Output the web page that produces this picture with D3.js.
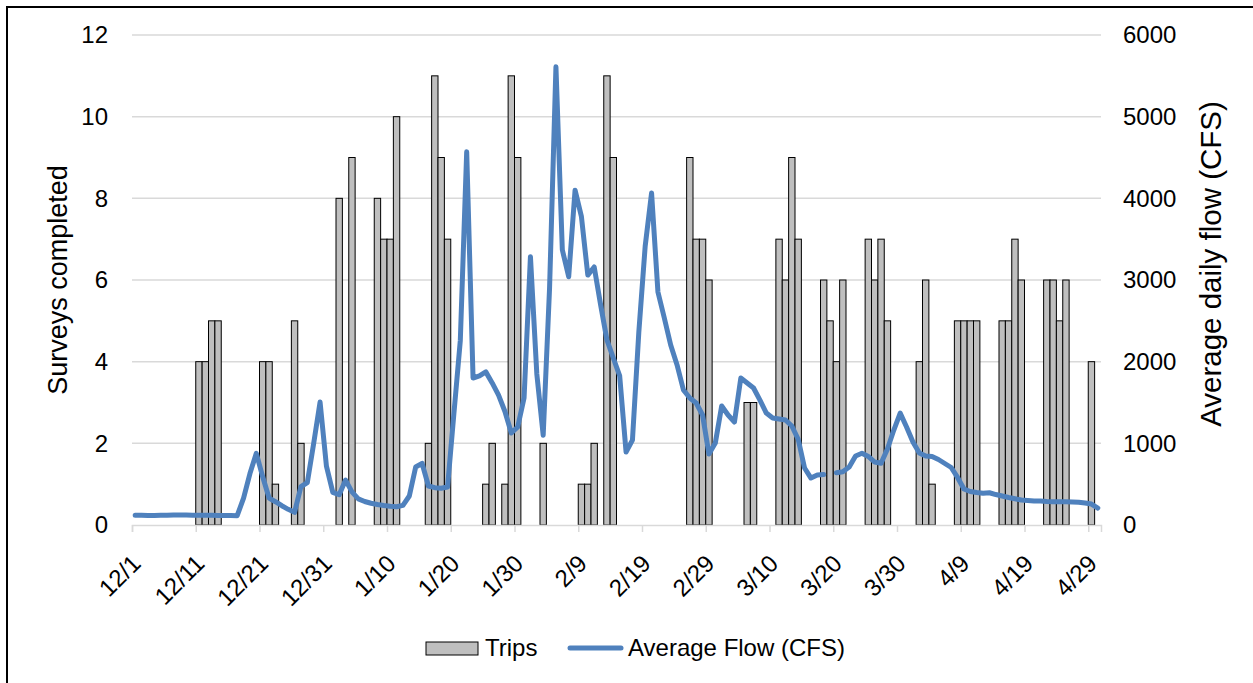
<!DOCTYPE html>
<html>
<head>
<meta charset="utf-8">
<script src="https://cdn.jsdelivr.net/npm/d3@7"></script>
<style>
  html, body { margin: 0; padding: 0; background: #fff; }
  svg text { font-family: "Liberation Sans", Arial, sans-serif; fill: #000; }
</style>
</head>
<body>
<svg id="chart" width="1253" height="683"></svg>
<script>
// ---- data ----
const firstDay = "2019-12-01";   // first day of the record
const lastDayExcl = "2020-05-01"; // day after the last day shown

const tickDates  = ["2019-12-01","2019-12-11","2019-12-21","2019-12-31","2020-01-10","2020-01-20",
                    "2020-01-30","2020-02-09","2020-02-19","2020-02-29","2020-03-10","2020-03-20",
                    "2020-03-30","2020-04-09","2020-04-19","2020-04-29"];
const tickLabels = ["12/1","12/11","12/21","12/31","1/10","1/20","1/30","2/9","2/19","2/29",
                    "3/10","3/20","3/30","4/9","4/19","4/29"];

const leftTicks  = [0, 2, 4, 6, 8, 10, 12];
const rightTicks = [0, 1000, 2000, 3000, 4000, 5000, 6000];

// survey trips per day
const tripDates = [
  "2019-12-11","2019-12-12","2019-12-13","2019-12-14",
  "2019-12-21","2019-12-22","2019-12-23",
  "2019-12-26","2019-12-27",
  "2020-01-02","2020-01-04",
  "2020-01-08","2020-01-09","2020-01-10","2020-01-11",
  "2020-01-16","2020-01-17","2020-01-18","2020-01-19",
  "2020-01-25","2020-01-26","2020-01-28","2020-01-29","2020-01-30",
  "2020-02-03",
  "2020-02-09","2020-02-10","2020-02-11","2020-02-13","2020-02-14",
  "2020-02-26","2020-02-27","2020-02-28","2020-02-29",
  "2020-03-06","2020-03-07",
  "2020-03-11","2020-03-12","2020-03-13","2020-03-14",
  "2020-03-18","2020-03-19","2020-03-20","2020-03-21",
  "2020-03-25","2020-03-26","2020-03-27","2020-03-28",
  "2020-04-02","2020-04-03","2020-04-04",
  "2020-04-08","2020-04-09","2020-04-10","2020-04-11",
  "2020-04-15","2020-04-16","2020-04-17","2020-04-18",
  "2020-04-22","2020-04-23","2020-04-24","2020-04-25",
  "2020-04-29"
];
const tripCounts = [
  4, 4, 5, 5,
  4, 4, 1,
  5, 2,
  8, 9,
  8, 7, 7, 10,
  2, 11, 9, 7,
  1, 2, 1, 11, 9,
  2,
  1, 1, 2, 11, 9,
  9, 7, 7, 6,
  3, 3,
  7, 6, 9, 7,
  6, 5, 4, 6,
  7, 6, 7, 5,
  4, 6, 1,
  5, 5, 5, 5,
  5, 5, 7, 6,
  6, 6, 5, 6,
  4
];

// average daily flow (CFS), one value per day starting at firstDay; null = no reading
const flowCfs = [
  118, 118, 117, 117, 118, 120, 122, 122, 121, 120,   // 12/1 - 12/10
  120, 119, 118, 117, 116, 115, 114, 330, 630, 878,   // 12/11 - 12/20
  590, 330, 285, 236, 192, 155, 470, 520, 1000, 1505, // 12/21 - 12/30
  720,                                                // 12/31
  400, 370, 550, 405, 320, 288, 266, 251, 239, 229,   // 1/1 - 1/10
  224, 240, 355, 710, 755, 477, 457, 450, 465, 1370,  // 1/11 - 1/20
  2260, 4570, 1800, 1825, 1875, 1740, 1590, 1390, 1126, 1200, // 1/21 - 1/30
  1555,                                               // 1/31
  3285, 1850, 1100, 2900, 5610, 3370, 3040, 4100, 3775, 3060, // 2/1 - 2/10
  3160, 2700, 2265, 2045, 1825, 894, 1040, 2360, 3415, 4065,  // 2/11 - 2/20
  2853, 2535, 2204, 1960, 1653, 1555, 1494, 1347, 869,        // 2/21 - 2/29
  1004, 1457, 1347, 1261, 1800, 1739, 1678, 1530, 1371, 1310, // 3/1 - 3/10
  1298, 1286, 1212, 1050, 698, 575, 612, 618, null, 640,      // 3/11 - 3/20
  653, 710, 845, 878, 839, 771, 755, 930, 1163, 1370,         // 3/21 - 3/30
  1200,                                                       // 3/31
  1016, 882, 845, 839, 802, 753, 704, 582, 441, 410,          // 4/1 - 4/10
  398, 388, 395, 373, 355, 337, 321, 306, 300, 294,           // 4/11 - 4/20
  294, 288, 285, 285, 284, 282, 279, 269, 257, 208            // 4/21 - 4/30
];

// ---- layout ----
const W = 1253, H = 683;
const plot = { left: 132, right: 1101, top: 35, bottom: 525 };
const svg = d3.select("#chart");

const parse = d3.utcParse("%Y-%m-%d");
const day0 = parse(firstDay);
const dayEnd = parse(lastDayExcl);

const x = d3.scaleUtc().domain([day0, dayEnd]).range([plot.left, plot.right]);
const yL = d3.scaleLinear().domain([0, 12]).range([plot.bottom, plot.top]);
const yR = d3.scaleLinear().domain([0, 6000]).range([plot.bottom, plot.top]);

// outer chart frame
svg.append("rect")
  .attr("x", 7).attr("y", 7)
  .attr("width", W + 20).attr("height", H + 20)
  .attr("fill", "none").attr("stroke", "#000").attr("stroke-width", 2);

// horizontal gridlines
svg.append("g").selectAll("line")
  .data(leftTicks.filter(d => d > 0))
  .join("line")
  .attr("x1", plot.left).attr("x2", plot.right)
  .attr("y1", d => yL(d)).attr("y2", d => yL(d))
  .attr("stroke", "#d9d9d9").attr("stroke-width", 1.5);

// bars: one day wide, starting at the day boundary
const trips = tripDates.map((d, i) => ({ date: parse(d), n: tripCounts[i] }));
svg.append("g").selectAll("rect")
  .data(trips)
  .join("rect")
  .attr("x", d => x(d.date))
  .attr("width", d => x(d3.utcDay.offset(d.date, 1)) - x(d.date))
  .attr("y", d => yL(d.n))
  .attr("height", d => yL(0) - yL(d.n))
  .attr("fill", "#bfbfbf")
  .attr("stroke", "#000")
  .attr("stroke-width", 1);

// x axis line and tick marks
const xAxis = d3.axisBottom(x)
  .tickValues(tickDates.map(parse))
  .tickSize(7)
  .tickFormat("");
const gx = svg.append("g").attr("transform", `translate(0,${plot.bottom})`).call(xAxis);
gx.select(".domain").attr("stroke", "#d9d9d9").attr("stroke-width", 1.5);
gx.selectAll(".tick line").attr("stroke", "#d9d9d9").attr("stroke-width", 1.5);

// rotated date labels, centred on each labelled day
svg.append("g").selectAll("text")
  .data(tickDates)
  .join("text")
  .attr("transform", (d) => {
    const cx = x(d3.utcHour.offset(parse(d), 12));
    return `translate(${cx + 1},${plot.bottom + 34}) rotate(-45)`;
  })
  .attr("text-anchor", "end")
  .attr("dy", "0.35em")
  .style("font-size", "24px")
  .text((d, i) => tickLabels[i]);

// left axis (survey counts)
const gl = svg.append("g").attr("transform", `translate(${plot.left},0)`)
  .call(d3.axisLeft(yL).tickValues(leftTicks).tickSize(0).tickPadding(24));
gl.select(".domain").remove();
gl.selectAll("text").style("font-size", "24px").attr("fill", "#000");

// right axis (flow)
const gr = svg.append("g").attr("transform", `translate(${plot.right},0)`)
  .call(d3.axisRight(yR).tickValues(rightTicks).tickSize(0).tickPadding(22).tickFormat(d3.format("d")));
gr.select(".domain").remove();
gr.selectAll("text").style("font-size", "24px").attr("fill", "#000");

// flow line, plotted at mid-day
const flow = flowCfs.map((v, i) => ({ date: d3.utcHour.offset(d3.utcDay.offset(day0, i), 12), v }));
const line = d3.line()
  .defined(d => d.v !== null)
  .x(d => x(d.date))
  .y(d => yR(d.v));
svg.append("path")
  .datum(flow)
  .attr("d", line)
  .attr("fill", "none")
  .attr("stroke", "#4f81bd")
  .attr("stroke-width", 5)
  .attr("stroke-linejoin", "round")
  .attr("stroke-linecap", "round");

// axis titles
svg.append("text")
  .attr("transform", `translate(58,280) rotate(-90)`)
  .attr("text-anchor", "middle").attr("dy", "0.35em")
  .style("font-size", "27px")
  .text("Surveys completed");
svg.append("text")
  .attr("transform", `translate(1211,264) rotate(-90)`)
  .attr("text-anchor", "middle").attr("dy", "0.35em")
  .style("font-size", "29.5px")
  .text("Average daily flow (CFS)");

// legend
const lg = svg.append("g");
lg.append("rect")
  .attr("x", 426).attr("y", 642).attr("width", 52).attr("height", 13)
  .attr("fill", "#bfbfbf").attr("stroke", "#000").attr("stroke-width", 1);
lg.append("text").attr("x", 485).attr("y", 648).attr("dy", "0.35em")
  .style("font-size", "24px").text("Trips");
lg.append("line")
  .attr("x1", 570).attr("x2", 621).attr("y1", 648).attr("y2", 648)
  .attr("stroke", "#4f81bd").attr("stroke-width", 5).attr("stroke-linecap", "round");
lg.append("text").attr("x", 628).attr("y", 648).attr("dy", "0.35em")
  .style("font-size", "24px").text("Average Flow (CFS)");
</script>
</body>
</html>
